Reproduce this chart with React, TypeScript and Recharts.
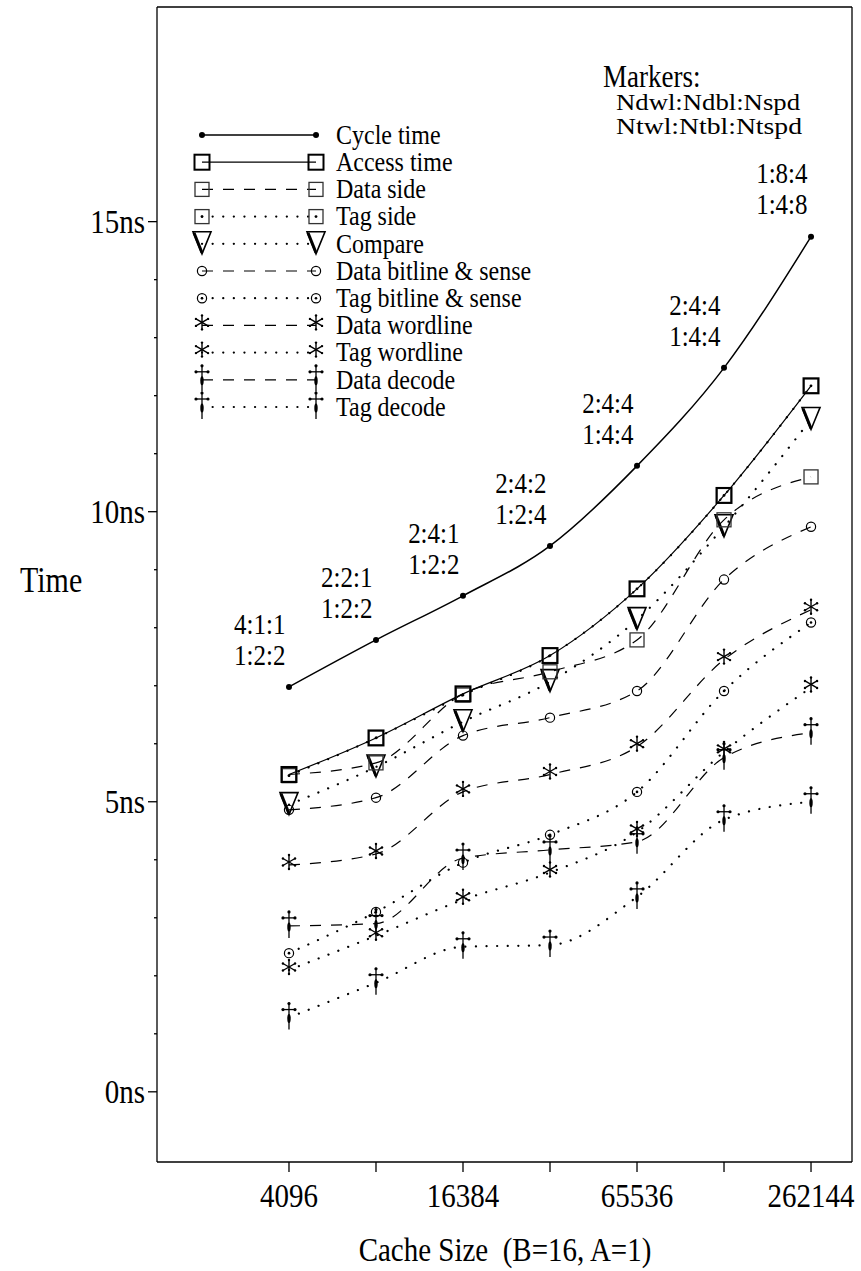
import React from "react";
import { LineChart, Line, XAxis, YAxis, Legend, LabelList } from "recharts";

// cache sizes on the x axis (one point per power of two)
const cacheSizes = [4096, 8192, 16384, 32768, 65536, 131072, 262144];
const xTickLabels = ["4096", "", "16384", "", "65536", "", "262144"];

// times in ns
const cycleTime = [6.98, 7.79, 8.55, 9.41, 10.79, 12.48, 14.74];
const accessTime = [5.47, 6.1, 6.86, 7.52, 8.67, 10.28, 12.17];
const dataSide = [5.47, 5.67, 6.86, 7.24, 7.79, 9.86, 10.6];
const tagSide = [5.45, 6.1, 6.84, 7.52, 8.67, 10.28, 12.17];
const compare = [4.95, 5.6, 6.38, 7.07, 8.14, 9.74, 11.59];
const dataBitline = [4.86, 5.07, 6.14, 6.45, 6.91, 8.83, 9.74];
const tagBitline = [2.39, 3.1, 3.95, 4.43, 5.17, 6.91, 8.09];
const dataWordline = [3.91, 4.1, 5.17, 5.47, 5.95, 7.45, 8.31];
const tagWordline = [2.1, 2.69, 3.31, 3.78, 4.48, 5.86, 6.97];
const dataDecode = [2.86, 2.9, 4.03, 4.17, 4.31, 5.76, 6.19];
const tagDecode = [1.28, 1.88, 2.5, 2.53, 3.36, 4.69, 5.0];

// Ndwl:Ndbl:Nspd over Ntwl:Ntbl:Ntspd for each point
const dataOrg = ["4:1:1", "2:2:1", "2:4:1", "2:4:2", "2:4:4", "2:4:4", "1:8:4"];
const tagOrg = ["1:2:2", "1:2:2", "1:2:2", "1:2:4", "1:4:4", "1:4:4", "1:4:8"];

const yTicks = [0, 1, 2, 3, 4, 5, 6, 7, 8, 9, 10, 11, 12, 13, 14, 15];
const yMajor = [0, 5, 10, 15];

const FONT = "'Liberation Serif', 'Times New Roman', serif";
const DASH = "11 10";
const DOT = "0.1 10.5";

const data = cacheSizes.map((size, i) => ({
  idx: i,
  size,
  cycle: cycleTime[i],
  access: accessTime[i],
  dataSide: dataSide[i],
  tagSide: tagSide[i],
  compare: compare[i],
  dataBit: dataBitline[i],
  tagBit: tagBitline[i],
  dataWord: dataWordline[i],
  tagWord: tagWordline[i],
  dataDec: dataDecode[i],
  tagDec: tagDecode[i],
}));

const series = [
  { key: "cycle", name: "Cycle time", dash: undefined, width: 1.5, marker: "dot" },
  { key: "access", name: "Access time", dash: undefined, width: 1.2, marker: "boxBold" },
  { key: "dataSide", name: "Data side", dash: DASH, width: 1.2, marker: "box" },
  { key: "tagSide", name: "Tag side", dash: DOT, width: 2.2, marker: "boxDot" },
  { key: "compare", name: "Compare", dash: DOT, width: 2.2, marker: "nabla" },
  { key: "dataBit", name: "Data bitline & sense", dash: DASH, width: 1.2, marker: "circle" },
  { key: "tagBit", name: "Tag bitline & sense", dash: DOT, width: 2.2, marker: "circleDot" },
  { key: "dataWord", name: "Data wordline", dash: DASH, width: 1.2, marker: "star" },
  { key: "tagWord", name: "Tag wordline", dash: DOT, width: 2.2, marker: "star" },
  { key: "dataDec", name: "Data decode", dash: DASH, width: 1.2, marker: "dagger" },
  { key: "tagDec", name: "Tag decode", dash: DOT, width: 2.2, marker: "dagger" },
];

// the original lettering is a tall, narrow Times; stretch glyphs vertically
function T({ x, y, size, anchor = "start", sy = 1.18, children, len }: any) {
  return (
    <text
      transform={`translate(${x},${y}) scale(1,${sy})`}
      x={0}
      y={0}
      textAnchor={anchor}
      dominantBaseline="central"
      fontFamily={FONT}
      fontSize={size}
      fill="#000"
      textLength={len}
      lengthAdjust={len ? "spacingAndGlyphs" : undefined}
      style={{ whiteSpace: "pre" }}
    >
      {children}
    </text>
  );
}

function marker(kind: string, cx: number, cy: number, key: any) {
  if (cx == null || cy == null) return <g key={key} />;
  switch (kind) {
    case "dot":
      return <circle key={key} cx={cx} cy={cy} r={3} fill="#000" />;
    case "boxBold":
      return <rect key={key} x={cx - 7.5} y={cy - 7.5} width={15} height={15} fill="none" stroke="#000" strokeWidth={2} />;
    case "box":
      return <rect key={key} x={cx - 7} y={cy - 7} width={14} height={14} fill="none" stroke="#333" strokeWidth={1.3} />;
    case "boxDot":
      return (
        <g key={key}>
          <rect x={cx - 7} y={cy - 7} width={14} height={14} fill="none" stroke="#333" strokeWidth={1.3} />
          <circle cx={cx} cy={cy} r={1.4} fill="#000" />
        </g>
      );
    case "nabla":
      return (
        <g key={key}>
          <polygon points={`${cx - 9},${cy - 12} ${cx + 9},${cy - 12} ${cx},${cy + 10}`} fill="none" stroke="#000" strokeWidth={1.6} strokeLinejoin="miter" />
          <line x1={cx - 8} y1={cy - 11} x2={cx} y2={cy + 9} stroke="#000" strokeWidth={3} />
        </g>
      );
    case "circle":
      return <circle key={key} cx={cx} cy={cy} r={4.6} fill="none" stroke="#000" strokeWidth={1.2} />;
    case "circleDot":
      return (
        <g key={key}>
          <circle cx={cx} cy={cy} r={4.6} fill="none" stroke="#000" strokeWidth={1.2} />
          <circle cx={cx} cy={cy} r={1.3} fill="#000" />
        </g>
      );
    case "star": {
      const c = cy - 3;
      const r = 7;
      const spokes = [90, 30, -30];
      return (
        <g key={key} stroke="#000" strokeWidth={1.4} fill="#000">
          {spokes.map((a) => {
            const dx = r * Math.cos((a * Math.PI) / 180);
            const dy = r * Math.sin((a * Math.PI) / 180);
            return (
              <g key={a}>
                <line x1={cx - dx} y1={c - dy} x2={cx + dx} y2={c + dy} />
                <circle cx={cx - dx} cy={c - dy} r={1.2} stroke="none" />
                <circle cx={cx + dx} cy={c + dy} r={1.2} stroke="none" />
              </g>
            );
          })}
        </g>
      );
    }
    case "dagger":
      return (
        <g key={key} fill="#000">
          <line x1={cx} y1={cy - 15} x2={cx} y2={cy + 12} stroke="#000" strokeWidth={1.3} />
          <line x1={cx - 6} y1={cy - 8} x2={cx + 6} y2={cy - 8} stroke="#000" strokeWidth={1.3} />
          <circle cx={cx} cy={cy - 14} r={1.6} />
          <circle cx={cx - 6} cy={cy - 8} r={1.6} />
          <circle cx={cx + 6} cy={cy - 8} r={1.6} />
          <ellipse cx={cx} cy={cy + 1} rx={1.7} ry={4.5} />
        </g>
      );
    default:
      return <g key={key} />;
  }
}

// legend rows, page coordinates
const LEG_LEFT = 180;
const LEG_TOP = 110;
const legendRowY = (i: number) => 135 + i * 27.2;

function LegendBox() {
  return (
    <svg width={360} height={330} style={{ overflow: "visible" }}>
      {series.map((s, i) => {
        const y = legendRowY(i) - LEG_TOP;
        const x1 = 202 - LEG_LEFT;
        const x2 = 316 - LEG_LEFT;
        return (
          <g key={s.key}>
            <line x1={x1} y1={y} x2={x2} y2={y} stroke="#000" strokeWidth={s.width} strokeDasharray={s.dash} strokeLinecap={s.dash === DOT ? "round" : "butt"} />
            {marker(s.marker, x1, y, "a")}
            {marker(s.marker, x2, y, "b")}
            <T x={336 - LEG_LEFT} y={y} size={24} sy={1.1}>
              {s.name}
            </T>
          </g>
        );
      })}
    </svg>
  );
}

function PointLabel(props: any) {
  const { x, y, index } = props;
  if (x == null || y == null) return null;
  return (
    <g>
      <T x={x - 3.5} y={y - 63} size={25} anchor="end">
        {dataOrg[index]}
      </T>
      <T x={x - 3.5} y={y - 32} size={25} anchor="end">
        {tagOrg[index]}
      </T>
    </g>
  );
}

// tick line and label drawn together: majors long + labelled, minors short
function YTick(props: any) {
  const { x, y, payload } = props;
  const major = yMajor.includes(payload.value);
  return (
    <g>
      <line x1={x - (major ? 9 : 3)} y1={y} x2={x} y2={y} stroke="#000" strokeWidth={1.3} />
      {major && (
        <T x={x - 12} y={y} size={29} anchor="end">
          {payload.value + "ns"}
        </T>
      )}
    </g>
  );
}

function XTick(props: any) {
  const { x, y, payload } = props;
  return (
    <g>
      <line x1={x} y1={y} x2={x} y2={y + 10} stroke="#000" strokeWidth={1.3} />
      <T x={x} y={y + 34} size={29} anchor="middle">
        {xTickLabels[payload.value]}
      </T>
    </g>
  );
}

const X_DOMAIN = [-1.517, 6.471];
const Y_DOMAIN = [-1.21, 18.7];
const axisLine = { stroke: "#000", strokeWidth: 1.3 };

export default function App() {
  return (
    <div style={{ position: "absolute", left: 0, top: 0, width: 861, height: 1271, background: "#fff" }}>
      <LineChart width={861} height={1271} data={data} margin={{ top: 6, right: 8, bottom: 108, left: 97 }}>
        <XAxis
          dataKey="idx"
          type="number"
          domain={X_DOMAIN}
          allowDataOverflow
          ticks={[0, 1, 2, 3, 4, 5, 6]}
          interval={0}
          tickSize={0}
          tickMargin={0}
          height={1}
          axisLine={axisLine}
          tickLine={false}
          tick={<XTick />}
        />
        <XAxis xAxisId="top" orientation="top" type="number" domain={X_DOMAIN} allowDataOverflow height={1} tick={false} tickLine={false} axisLine={axisLine} />
        <YAxis
          type="number"
          domain={Y_DOMAIN}
          allowDataOverflow
          ticks={yTicks}
          interval={0}
          tickSize={0}
          tickMargin={0}
          width={60}
          axisLine={axisLine}
          tickLine={false}
          tick={<YTick />}
        />
        <YAxis yAxisId="right" orientation="right" type="number" domain={Y_DOMAIN} allowDataOverflow width={1} tick={false} tickLine={false} axisLine={axisLine} />
        <Legend
          layout="vertical"
          align="center"
          verticalAlign="middle"
          content={() => <LegendBox />}
          wrapperStyle={{ left: LEG_LEFT, top: LEG_TOP, width: 360, height: 330 }}
        />
        {series
          .slice()
          .reverse()
          .map((s) => (
            <Line
              key={s.key}
              dataKey={s.key}
              name={s.name}
              type="monotone"
              stroke="#000"
              strokeWidth={s.width}
              strokeDasharray={s.dash}
              strokeLinecap={s.dash === DOT ? "round" : "butt"}
              dot={(p: any) => marker(s.marker, p.cx, p.cy, `${s.key}-${p.index}`)}
              activeDot={false}
              isAnimationActive={false}
            >
              {s.key === "cycle" && <LabelList dataKey="cycle" content={<PointLabel />} />}
            </Line>
          ))}
      </LineChart>
      <svg width={861} height={1271} style={{ position: "absolute", left: 0, top: 0, pointerEvents: "none" }}>
        <T x={603} y={76} size={27}>Markers:</T>
        <T x={616} y={103} size={21} sy={1.05} len={184}>Ndwl:Ndbl:Nspd</T>
        <T x={616} y={127} size={21} sy={1.05} len={186}>Ntwl:Ntbl:Ntspd</T>
        <T x={20} y={580} size={30}>Time</T>
        <T x={505} y={1250} size={29} anchor="middle">{"Cache Size  (B=16, A=1)"}</T>
      </svg>
    </div>
  );
}
